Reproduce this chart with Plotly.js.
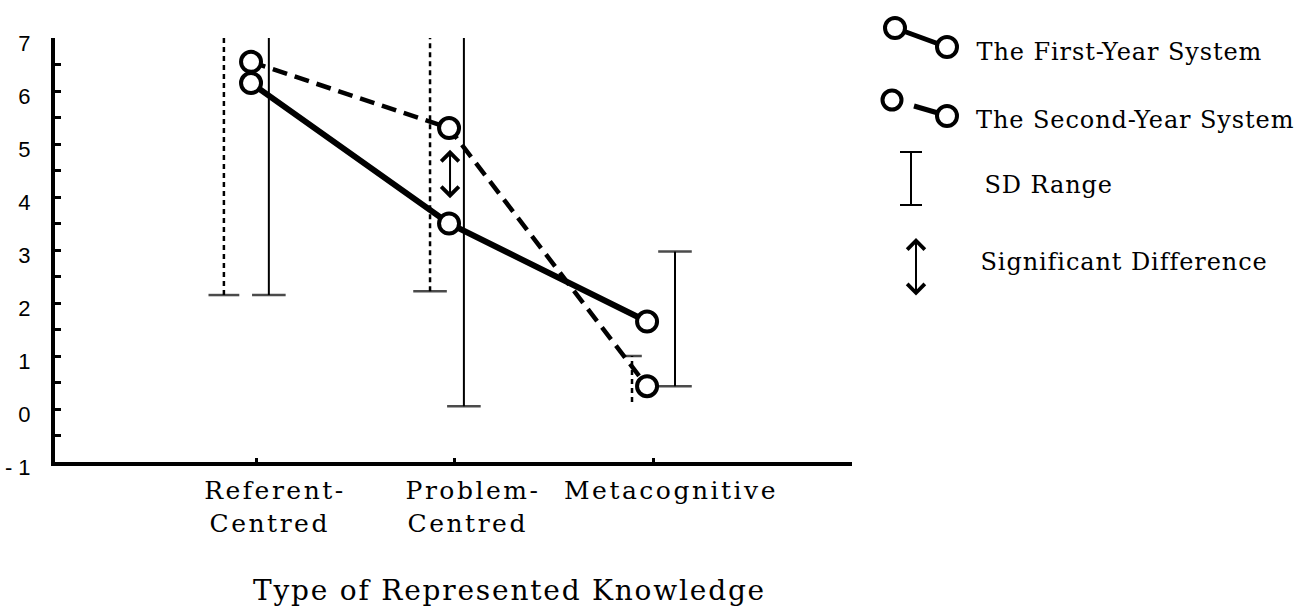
<!DOCTYPE html>
<html><head><meta charset="utf-8">
<script src="https://cdn.plot.ly/plotly-3.0.1.min.js"></script>
<style>
html,body{margin:0;padding:0;background:#fff;}
#chart{width:1300px;height:614px;}
#chart .xtick text{letter-spacing:2.5px;}
#chart .annotation-text{letter-spacing:0.9px;}
#chart .annotation[data-index="6"] .annotation-text{letter-spacing:1.8px;}
</style>
</head><body><div id="chart"></div>
<script>
// ---- data ----
const categories = ['Referent-<br>Centred\u00a0', 'Problem-<br>Centred\u00a0', 'Metacognitive'];
const firstYearMean  = [6.15, 3.50, 1.65];
const secondYearMean = [6.55, 5.30, 0.43];
const firstYearSDLow   = [2.15, 0.05, 0.43];
const firstYearSDHigh  = [10.2, 7.10, 2.97];
const secondYearSDLow  = [2.15, 2.22, 0.13];
const secondYearSDHigh = [10.9, 8.40, 1.00];
const sigDiffCategory = 1;
const sigDiffRange = [3.95, 4.89];
const yTickVals = [-1, 0, 1, 2, 3, 4, 5, 6, 7];
const yTickText = ['- 1', '0', '1', '2', '3', '4', '5', '6', '7'];
const seriesNames = ['The First-Year System', 'The Second-Year System', 'SD Range', 'Significant Difference'];
const xTitle = 'Type of Represented Knowledge';

// ---- styling / placement ----
const SERIF = 'DejaVu Serif, serif';
const SANS = 'Liberation Sans, Arial, sans-serif';
const LEGEND_LS = 0.9;
const POINT_SHIFT = -0.03;
const FIRST_SD_OFFSET  = [0.06, 0.045, 0.111];
const SECOND_SD_OFFSET = [-0.167, -0.126, -0.106];
const FIRST_CAP  = {low: [24, 24, 24], high: [0, 0, 24]};
const SECOND_CAP = {low: [22, 24, 0],  high: [0, 0, 14]};
const M = {l: 55, r: 448, t: 38, b: 152};
const PW = 1300 - M.l - M.r, PH = 614 - M.t - M.b;
const X = px => (px - M.l) / PW;
const Y = py => (614 - M.b - py) / PH;

function sdTraces(low, high, off, caps, dash, w) {
  const lx = [], ly = [], cx = [], cy = [], cs = [];
  low.forEach((lo, i) => {
    const x = i + off[i];
    lx.push(x, x, null); ly.push(lo, high[i], null);
    cx.push(x, x); cy.push(lo, high[i]); cs.push(caps.low[i], caps.high[i]);
  });
  return [
    {x: lx, y: ly, mode: 'lines', line: {color: '#000', width: w, dash: dash}, hoverinfo: 'skip', showlegend: false},
    {x: cx, y: cy, mode: 'markers', cliponaxis: true,
     marker: {symbol: 'line-ew', size: cs, color: '#000', line: {color: '#000', width: 2.5}}, hoverinfo: 'skip', showlegend: false}
  ];
}

const xs = categories.map((c, i) => i + POINT_SHIFT);
const traces = [
  ...sdTraces(secondYearSDLow, secondYearSDHigh, SECOND_SD_OFFSET, SECOND_CAP, '5px,4px', 2.5),
  ...sdTraces(firstYearSDLow, firstYearSDHigh, FIRST_SD_OFFSET, FIRST_CAP, 'solid', 2),
  {x: xs, y: secondYearMean, name: seriesNames[1], mode: 'lines+markers', cliponaxis: false,
   line: {color: '#000', width: 4.5, dash: '15px,8px'},
   marker: {symbol: 'circle', size: 20, color: '#fff', line: {color: '#000', width: 4}}, showlegend: false},
  {x: xs, y: firstYearMean, name: seriesNames[0], mode: 'lines+markers', cliponaxis: false,
   line: {color: '#000', width: 6},
   marker: {symbol: 'circle', size: 20, color: '#fff', line: {color: '#000', width: 4}}, showlegend: false}
];

// ---- custom legend (drawn in pixel-anchored shapes) ----
function circ(px, py, r) {
  return {type: 'circle', xref: 'paper', yref: 'paper', xsizemode: 'pixel', ysizemode: 'pixel',
    xanchor: X(px), yanchor: Y(py), x0: -r, x1: r, y0: -r, y1: r,
    line: {color: '#000', width: 4}, fillcolor: '#fff', layer: 'above'};
}
function seg(x0, y0, x1, y1, w, dash) {
  return {type: 'line', xref: 'paper', yref: 'paper', x0: X(x0), y0: Y(y0), x1: X(x1), y1: Y(y1),
    line: {color: '#000', width: w, dash: dash || 'solid'}, layer: 'above'};
}
const shapes = [
  seg(895, 28, 947, 47, 5), circ(895, 28, 10), circ(947, 47, 10),
  seg(914, 106, 938, 113, 5), circ(892, 100, 9.5), circ(947, 116, 10),
  seg(911, 152, 911, 205, 2), seg(900, 152, 922, 152, 2), seg(900, 205, 922, 205, 2)
];
function label(text, px, py) {
  // compensate for the extra tracking, which is not part of Plotly's measured anchor
  const shift = (text.length - 1) * LEGEND_LS / 2;
  return {text: text, xref: 'paper', yref: 'paper', x: X(px + shift), y: Y(py), xanchor: 'left', yanchor: 'middle',
    showarrow: false, font: {family: SERIF, size: 24, color: '#000'}};
}
const annotations = [
  label(seriesNames[0], 975, 52), label(seriesNames[1], 975, 120),
  label(seriesNames[2], 983, 185), label(seriesNames[3], 980, 262),
  {text: '', xref: 'paper', yref: 'paper', x: X(916), y: Y(238), ax: 0, ay: 59,
   showarrow: true, arrowside: 'end+start', arrowhead: 4, startarrowhead: 4,
   arrowsize: 1.7, startarrowsize: 1.7, arrowwidth: 2, arrowcolor: '#000', standoff: 0, startstandoff: 0},
  {text: '', xref: 'x', yref: 'y', axref: 'x', ayref: 'y',
   x: sigDiffCategory - 0.025, y: sigDiffRange[1], ax: sigDiffCategory - 0.025, ay: sigDiffRange[0],
   showarrow: true, arrowside: 'end+start', arrowhead: 4, startarrowhead: 4,
   arrowsize: 1.7, startarrowsize: 1.7, arrowwidth: 2, arrowcolor: '#000', standoff: 0, startstandoff: 0},
  {text: xTitle, xref: 'paper', yref: 'paper', x: X(509), y: Y(590), xanchor: 'center', yanchor: 'middle',
   showarrow: false, font: {family: SERIF, size: 28, color: '#000'}}
];

const layout = {
  width: 1300, height: 614, margin: M,
  paper_bgcolor: '#fff', plot_bgcolor: '#fff', showlegend: false,
  xaxis: {range: [-1.02, 3.005], tickmode: 'array', tickvals: [0, 1, 2], ticktext: categories,
    ticks: 'inside', ticklen: 4, tickwidth: 3, tickcolor: '#000',
    showline: true, linewidth: 4, linecolor: '#000', showgrid: false, zeroline: false,
    tickfont: {family: SERIF, size: 25, color: '#000'}, ticklabelshift: 18, ticklabelstandoff: 3,
    fixedrange: true},
  yaxis: {range: [-1, 7], tickmode: 'array', tickvals: yTickVals, ticktext: yTickText,
    ticks: 'inside', ticklen: 6, tickwidth: 3, tickcolor: '#000',
    minor: {tickmode: 'linear', tick0: -1, dtick: 0.5, ticks: 'inside', ticklen: 6, tickwidth: 3, tickcolor: '#000', showgrid: false},
    showline: true, linewidth: 4, linecolor: '#000', showgrid: false, zeroline: false,
    tickfont: {family: SANS, size: 22, color: '#000'}, ticklabelstandoff: 16, ticklabelshift: 5,
    fixedrange: true},
  shapes: shapes, annotations: annotations
};
Plotly.newPlot('chart', traces, layout, {displayModeBar: false, staticPlot: true});
</script>
</body></html>
